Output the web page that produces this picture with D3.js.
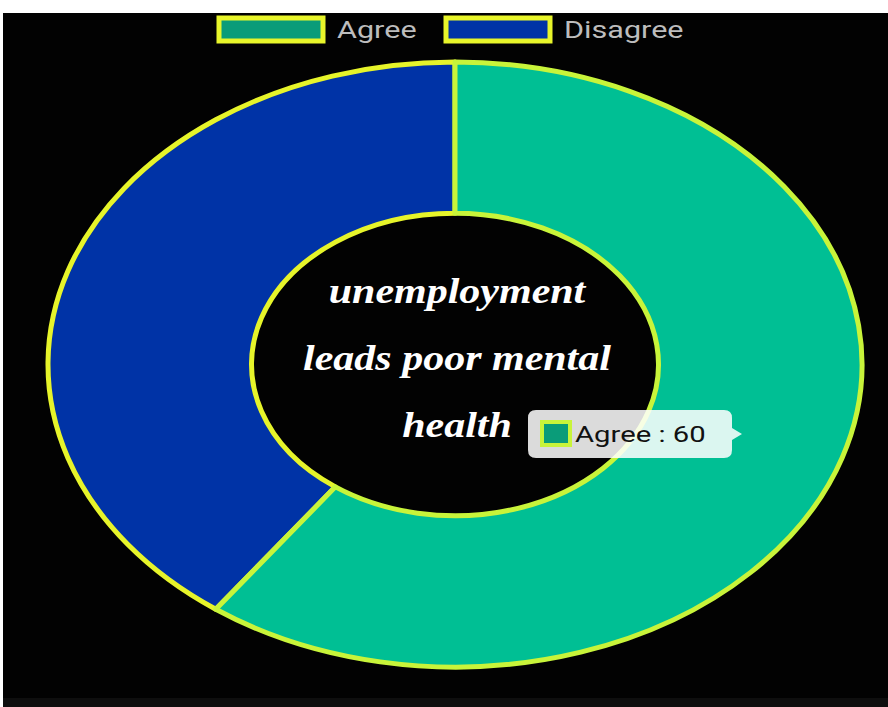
<!DOCTYPE html>
<html>
<head>
<meta charset="utf-8">
<script src="https://cdn.jsdelivr.net/npm/d3@7.9.0/dist/d3.min.js"></script>
<style>
  body { margin: 0; background: #fff; }
  svg { display: block; }
</style>
</head>
<body>
<svg width="888" height="707"></svg>
<script>
// data
const labels = ['Agree', 'Disagree'];
const values = [60, 40];
const colors = ['#00bf94', '#0033a6'];
const strokes = ['#c8f43a', '#e6f42a'];
const titleLines = ['unemployment', 'leads poor mental', 'health'];

const svg = d3.select('svg');
const W = 888, H = 707;
const stretch = 1.33; // the picture is stretched sideways

// background: white strip top/left, dark strip bottom
svg.append('rect').attr('width', W).attr('height', H).attr('fill', '#fff');
svg.append('rect').attr('x', 3).attr('y', 13).attr('width', W - 3).attr('height', H - 13).attr('fill', '#020202');
svg.append('rect').attr('x', 3).attr('y', 698).attr('width', W - 3).attr('height', 9).attr('fill', '#0e0e0e');

// donut, drawn in a circle then stretched into an ellipse
const R = 300;
const cx = 455, cy = 364.5, rx = 407, ry = 302.5;
const pie = d3.pie().sort(null).value(d => d);
const arc = d3.arc().innerRadius(R * 0.5).outerRadius(R);
const arcs = pie(values);

const g = svg.append('g')
  .attr('transform', `translate(${cx},${cy}) scale(${rx / R},${ry / R})`);

// draw disagree first so the agree borders sit on top
[1, 0].forEach(i => {
  g.append('path')
    .attr('d', arc(arcs[i]))
    .attr('fill', colors[i])
    .attr('stroke', strokes[i])
    .attr('stroke-width', 5)
    .attr('stroke-linejoin', 'round')
    .attr('vector-effect', 'non-scaling-stroke');
});

// center text
svg.append('g').selectAll('text')
  .data(titleLines)
  .join('text')
  .attr('transform', (d, i) => `translate(457,${303 + i * 67}) scale(1.2,1)`)
  .attr('text-anchor', 'middle')
  .attr('fill', '#fff')
  .attr('font-family', 'Liberation Serif, serif')
  .attr('font-style', 'italic')
  .attr('font-weight', 'bold')
  .attr('font-size', 35)
  .text(d => d);

// legend
const legend = svg.append('g');
const legX = [219, 446];
labels.forEach((l, i) => {
  legend.append('rect')
    .attr('x', legX[i]).attr('y', 18)
    .attr('width', 104).attr('height', 23)
    .attr('fill', i === 0 ? '#0a9c79' : colors[i])
    .attr('stroke', '#e8f52a').attr('stroke-width', 5);
  legend.append('text')
    .attr('transform', `translate(${legX[i] + 118},38) scale(${stretch},1)`)
    .attr('fill', '#bdbdbd')
    .attr('font-family', 'Roboto, sans-serif')
    .attr('font-size', 23)
    .text(l);
});

// tooltip for Agree
const tip = svg.append('g').attr('transform', 'translate(528,410)');
tip.append('path')
  .attr('d', 'M8,0 H196 Q204,0 204,8 V18 L214,24 L204,30 V40 Q204,48 196,48 H8 Q0,48 0,40 V8 Q0,0 8,0 Z')
  .attr('fill', '#fff')
  .attr('fill-opacity', 0.86);
tip.append('rect')
  .attr('x', 14).attr('y', 12)
  .attr('width', 28).attr('height', 23)
  .attr('fill', '#0a9c79')
  .attr('stroke', '#c8f43a').attr('stroke-width', 4);
tip.append('text')
  .attr('transform', `translate(47,32) scale(${stretch},1)`)
  .attr('fill', '#111')
  .attr('font-family', 'Roboto, sans-serif')
  .attr('font-size', 22)
  .text(`${labels[0]} : ${values[0]}`);
</script>
</body>
</html>
